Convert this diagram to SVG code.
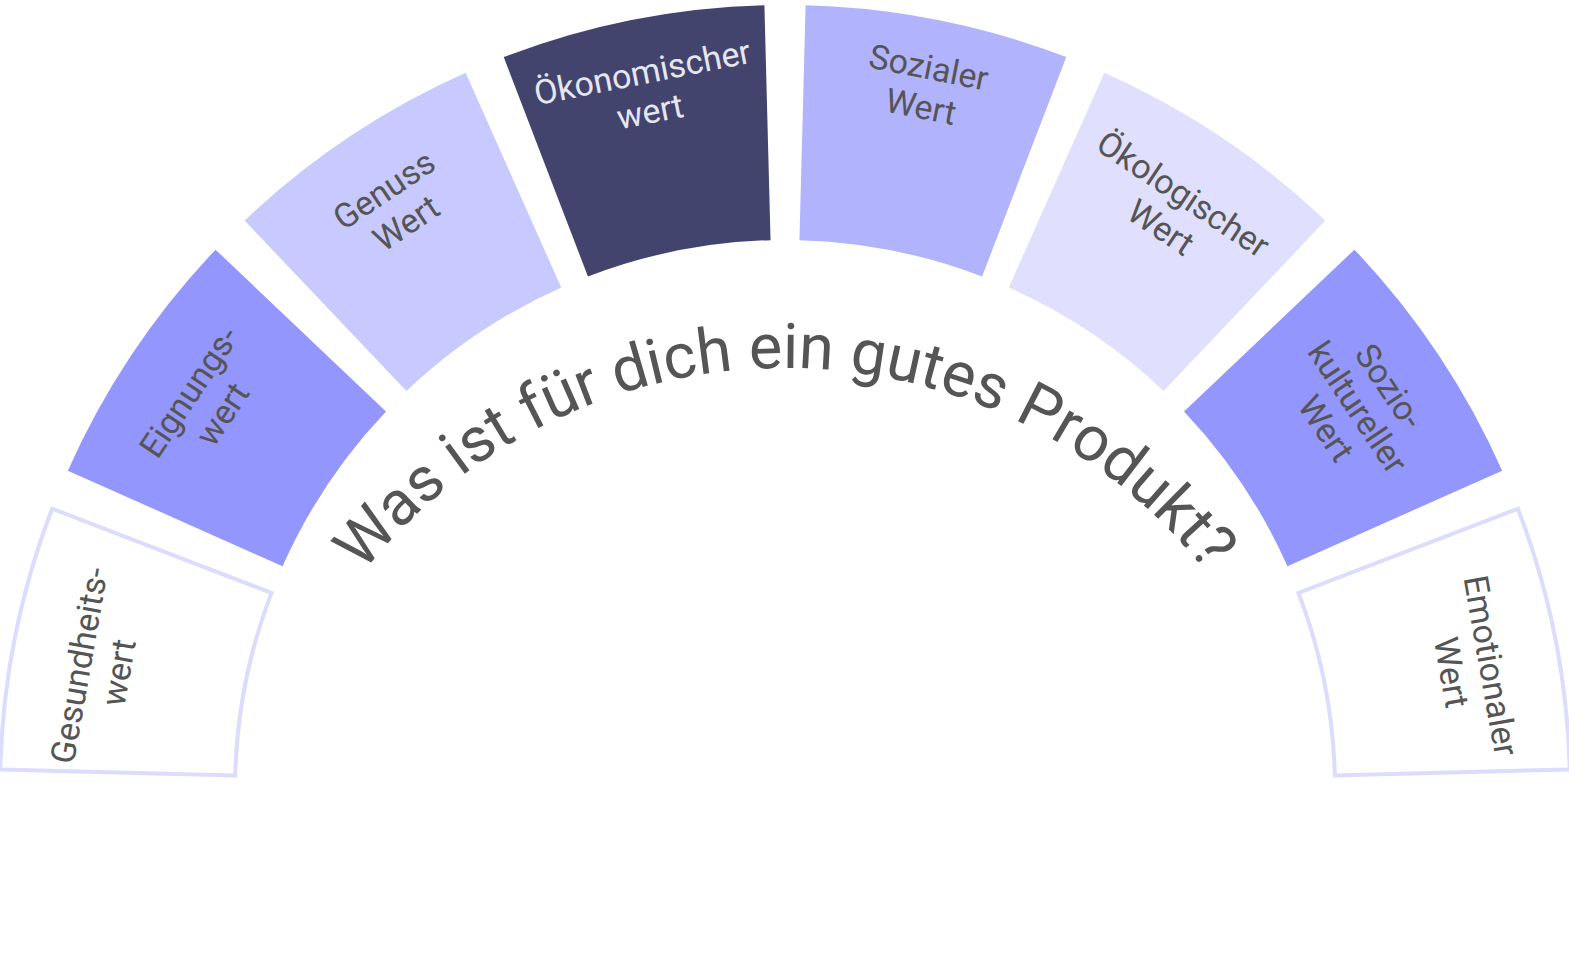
<svg xmlns="http://www.w3.org/2000/svg" width="1569" height="969" viewBox="0 0 1569 969">
<style>
.lbl{font-family:Roboto,"Liberation Sans",sans-serif;font-size:34px;fill:#555;text-anchor:middle}
.q{font-family:Roboto,"Liberation Sans",sans-serif;font-size:63px;fill:#555}
</style>
<defs>
<path id="seg" d="M -132.9 -773.7 A 785 785 0 0 1 132.9 -773.7 L 93.1 -542.1 A 550 550 0 0 0 -93.1 -542.1 Z"/>
<path id="arc" d="M 248 905 A 537 537 0 0 1 1322 905"/>
</defs>
<rect width="1569" height="969" fill="#fff"/>
<g id="n1" transform="translate(785,790) rotate(-80)"><use href="#seg" transform="rotate(1.25)" fill="#fff" stroke="#dcdcfc" stroke-width="4"/><text class="lbl" y="-705">Gesundheits-<tspan x="0" dy="40">wert</tspan></text></g>
<g id="n2" transform="translate(785,790) rotate(-56.25)"><use href="#seg" fill="#9396fc"/><text class="lbl" y="-705">Eignungs-<tspan x="0" dy="40">wert</tspan></text></g>
<g id="n3" transform="translate(785,790) rotate(-33.75)"><use href="#seg" fill="#c8c9fe"/><text class="lbl" y="-710">Genuss<tspan x="0" dy="40">Wert</tspan></text></g>
<g id="n4" transform="translate(785,790) rotate(-11.25)"><use href="#seg" fill="#42446e"/><text class="lbl" y="-720" style="fill:#e6e6f0">Ökonomischer<tspan x="0" dy="40">wert</tspan></text></g>
<g id="n5" transform="translate(785,790) rotate(11.25)"><use href="#seg" fill="#b2b3fd"/><text class="lbl" y="-725">Sozialer<tspan x="0" dy="40">Wert</tspan></text></g>
<g id="n6" transform="translate(785,790) rotate(33.75)"><use href="#seg" fill="#e0e0fe"/><text class="lbl" y="-705">Ökologischer<tspan x="0" dy="40">Wert</tspan></text></g>
<g id="n7" transform="translate(785,790) rotate(56.25)"><use href="#seg" fill="#9396fc"/><text class="lbl" y="-715">Sozio-<tspan x="0" dy="38">kultureller</tspan><tspan x="0" dy="38">Wert</tspan></text></g>
<g id="n8" transform="translate(785,790) rotate(80)"><use href="#seg" transform="rotate(-1.25)" fill="#fff" stroke="#dcdcfc" stroke-width="4"/><text class="lbl" y="-705">Emotionaler<tspan x="0" dy="40">Wert</tspan></text></g>
<g id="title"><text class="q"><textPath href="#arc" startOffset="50%" text-anchor="middle">Was ist für dich ein gutes Produkt?</textPath></text></g>
<g id="connectors"/>
</svg>
